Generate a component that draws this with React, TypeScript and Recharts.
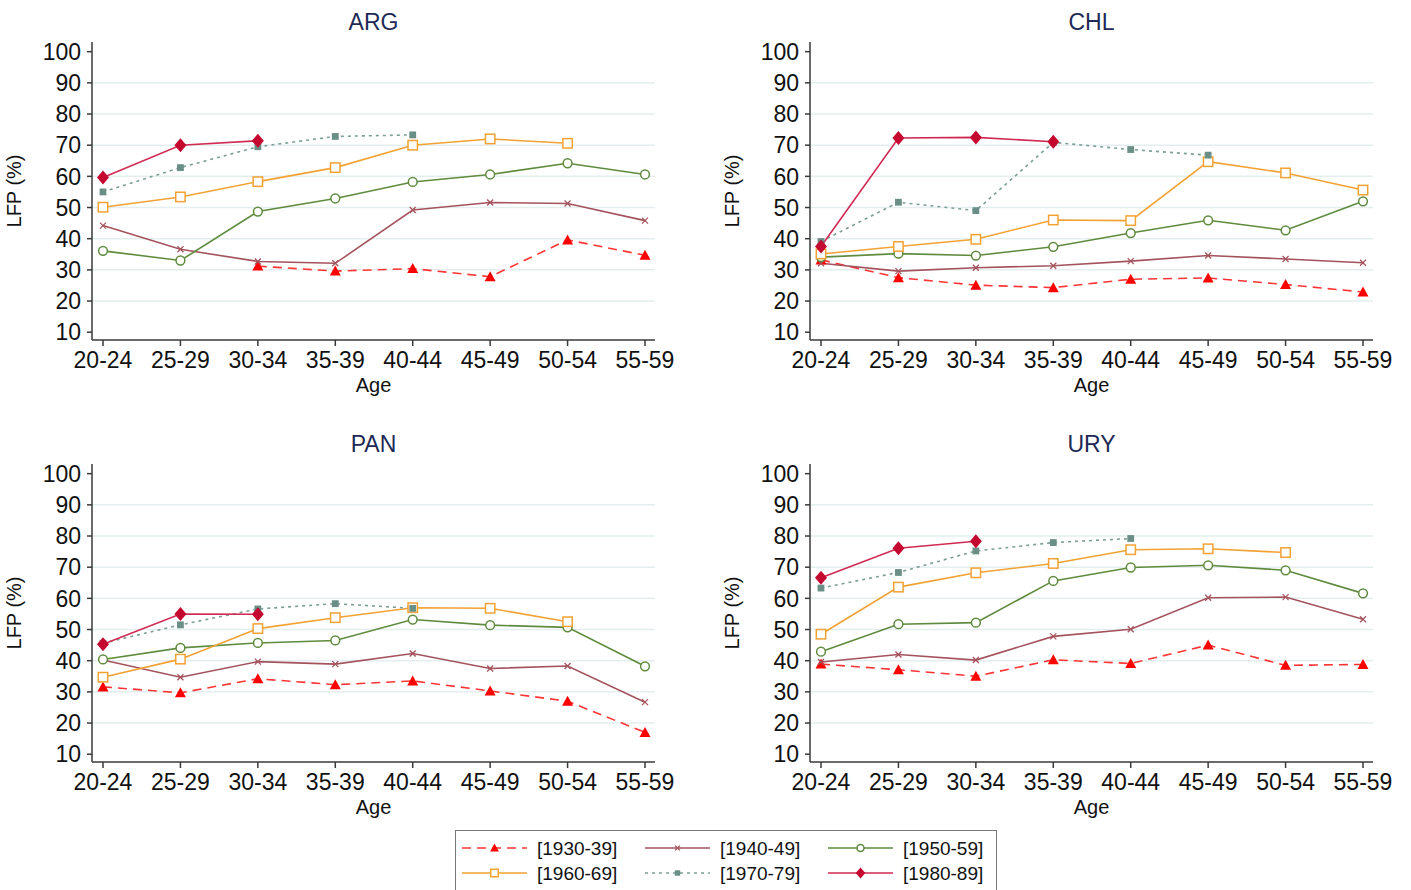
import { LineChart, Line, XAxis, YAxis, CartesianGrid } from 'recharts';

const AGES = ['20-24', '25-29', '30-34', '35-39', '40-44', '45-49', '50-54', '55-59'];
const Y_TICKS = [10, 20, 30, 40, 50, 60, 70, 80, 90, 100];
const GRID_VALUES = [20, 30, 40, 50, 60, 70, 80, 90];
const COHORTS = ['[1930-39]', '[1940-49]', '[1950-59]', '[1960-69]', '[1970-79]', '[1980-89]'];

// ARG
const ARG_1930 = [null, null, 31.2, 29.6, 30.4, 27.8, 39.6, 34.7];
const ARG_1940 = [44.2, 36.6, 32.7, 32.1, 49.2, 51.6, 51.3, 45.8];
const ARG_1950 = [36.1, 33.0, 48.7, 52.9, 58.2, 60.6, 64.2, 60.6];
const ARG_1960 = [50.1, 53.4, 58.3, 62.8, 70.0, 72.0, 70.6, null];
const ARG_1970 = [55.0, 62.8, 69.5, 72.8, 73.3, null, null, null];
const ARG_1980 = [59.6, 70.0, 71.4, null, null, null, null, null];

// CHL
const CHL_1930 = [33.2, 27.5, 25.1, 24.3, 27.0, 27.4, 25.3, 22.9];
const CHL_1940 = [32.1, 29.6, 30.7, 31.3, 32.8, 34.6, 33.5, 32.3];
const CHL_1950 = [34.1, 35.2, 34.6, 37.4, 41.8, 45.9, 42.7, 52.0];
const CHL_1960 = [35.1, 37.5, 39.8, 46.0, 45.8, 64.7, 61.1, 55.6];
const CHL_1970 = [39.1, 51.7, 49.0, 70.9, 68.6, 66.8, null, null];
const CHL_1980 = [37.5, 72.3, 72.5, 71.1, null, null, null, null];

// PAN
const PAN_1930 = [31.6, 29.7, 34.2, 32.3, 33.5, 30.3, 27.0, 17.0];
const PAN_1940 = [40.2, 34.7, 39.7, 38.9, 42.3, 37.5, 38.3, 26.7];
const PAN_1950 = [40.4, 44.1, 45.7, 46.5, 53.2, 51.4, 50.7, 38.2];
const PAN_1960 = [34.7, 40.5, 50.3, 53.8, 57.0, 56.8, 52.5, null];
const PAN_1970 = [45.6, 51.5, 56.6, 58.3, 56.8, null, null, null];
const PAN_1980 = [45.3, 55.0, 54.9, null, null, null, null, null];

// URY
const URY_1930 = [38.9, 37.1, 35.0, 40.3, 39.1, 45.0, 38.5, 38.8];
const URY_1940 = [39.6, 42.0, 40.2, 47.8, 50.1, 60.2, 60.4, 53.3];
const URY_1950 = [42.9, 51.7, 52.2, 65.6, 69.9, 70.6, 69.0, 61.6];
const URY_1960 = [48.5, 63.6, 68.2, 71.2, 75.6, 75.9, 74.7, null];
const URY_1970 = [63.3, 68.3, 75.2, 77.9, 79.2, null, null, null];
const URY_1980 = [66.6, 76.1, 78.3, null, null, null, null, null];

type Shape = 'triangle' | 'x' | 'circle' | 'square' | 'sqfill' | 'diamond';

const SERIES: { key: string; label: string; color: string; mark: string; dash?: string; shape: Shape }[] = [
  { key: 'c1930', label: COHORTS[0], color: '#ff3434', mark: '#ff0000', dash: '9 6', shape: 'triangle' },
  { key: 'c1940', label: COHORTS[1], color: '#a4535d', mark: '#a4535d', shape: 'x' },
  { key: 'c1950', label: COHORTS[2], color: '#5e8b3e', mark: '#5e8b3e', shape: 'circle' },
  { key: 'c1960', label: COHORTS[3], color: '#f2a233', mark: '#f2a233', shape: 'square' },
  { key: 'c1970', label: COHORTS[4], color: '#7d9e96', mark: '#6a8f86', dash: '3 4', shape: 'sqfill' },
  { key: 'c1980', label: COHORTS[5], color: '#d02a52', mark: '#c4082f', shape: 'diamond' },
];

function buildRows(cols: (number | null)[][]) {
  return AGES.map((age, i) => {
    const row: any = { age };
    SERIES.forEach((s, j) => (row[s.key] = cols[j][i]));
    return row;
  });
}

const PANELS = [
  { title: 'ARG', left: 0, top: 0, rows: buildRows([ARG_1930, ARG_1940, ARG_1950, ARG_1960, ARG_1970, ARG_1980]) },
  { title: 'CHL', left: 718, top: 0, rows: buildRows([CHL_1930, CHL_1940, CHL_1950, CHL_1960, CHL_1970, CHL_1980]) },
  { title: 'PAN', left: 0, top: 422, rows: buildRows([PAN_1930, PAN_1940, PAN_1950, PAN_1960, PAN_1970, PAN_1980]) },
  { title: 'URY', left: 718, top: 422, rows: buildRows([URY_1930, URY_1940, URY_1950, URY_1960, URY_1970, URY_1980]) },
];

function Marker({ shape, cx, cy, color, k = 1 }: { shape: Shape; cx: number; cy: number; color: string; k?: number }) {
  switch (shape) {
    case 'triangle':
      return <polygon points={`${cx},${cy - 5.5 * k} ${cx + 5.5 * k},${cy + 4.5 * k} ${cx - 5.5 * k},${cy + 4.5 * k}`} fill={color} />;
    case 'x':
      return (
        <g stroke={color} strokeWidth={1.3}>
          <line x1={cx - 3 * k} y1={cy - 3 * k} x2={cx + 3 * k} y2={cy + 3 * k} />
          <line x1={cx - 3 * k} y1={cy + 3 * k} x2={cx + 3 * k} y2={cy - 3 * k} />
        </g>
      );
    case 'circle':
      return <circle cx={cx} cy={cy} r={4.4 * k} fill="#fff" stroke={color} strokeWidth={1.5} />;
    case 'square':
      return <rect x={cx - 4.7 * k} y={cy - 4.7 * k} width={9.4 * k} height={9.4 * k} fill="#fff" stroke={color} strokeWidth={1.5} />;
    case 'sqfill':
      return <rect x={cx - 3.4 * k} y={cy - 3.4 * k} width={6.8 * k} height={6.8 * k} fill={color} />;
    case 'diamond':
      return <polygon points={`${cx},${cy - 7 * k} ${cx + 6 * k},${cy} ${cx},${cy + 7 * k} ${cx - 6 * k},${cy}`} fill={color} />;
  }
  return null;
}

const dotFor = (s: (typeof SERIES)[number]) => (p: any) => {
  if (p.value == null || p.cx == null || p.cy == null) return <g key={`${s.key}-${p.index}`} />;
  return (
    <g key={`${s.key}-${p.index}`}>
      <Marker shape={s.shape} cx={p.cx} cy={p.cy} color={s.mark} />
    </g>
  );
};

const tickStyle = { fontSize: 23, fill: '#111' };

function Panel({ title, left, top, rows }: { title: string; left: number; top: number; rows: any[] }) {
  return (
    <div style={{ position: 'absolute', left, top, width: 700, height: 400 }}>
      <div
        style={{
          position: 'absolute',
          left: 92,
          width: 563,
          top: 9,
          textAlign: 'center',
          fontSize: 23,
          lineHeight: '26px',
          color: '#1e2a55',
        }}
      >
        {title}
      </div>
      <LineChart width={700} height={400} data={rows} margin={{ top: 42, right: 45, left: 0, bottom: 0 }}>
        <CartesianGrid vertical={false} horizontalValues={GRID_VALUES} stroke="#e4eeee" strokeWidth={1.5} />
        <XAxis
          dataKey="age"
          padding={{ left: 11, right: 10 }}
          height={60}
          tickSize={6}
          tickMargin={6}
          interval={0}
          tick={tickStyle}
          stroke="#3a3a3a"
          strokeWidth={1.5}
          label={{ value: 'Age', position: 'insideBottom', offset: 8, fontSize: 20, fill: '#111' }}
        />
        <YAxis
          type="number"
          width={92}
          domain={[7.5, 103.1]}
          ticks={Y_TICKS}
          interval={0}
          tickSize={5}
          tickMargin={6}
          tick={tickStyle}
          stroke="#3a3a3a"
          strokeWidth={1.5}
          label={{
            value: 'LFP (%)',
            angle: -90,
            position: 'insideLeft',
            offset: 13.5,
            fontSize: 20,
            fill: '#111',
            style: { textAnchor: 'middle' },
          }}
        />
        {SERIES.map((s) => (
          <Line
            key={s.key}
            dataKey={s.key}
            type="linear"
            stroke={s.color}
            strokeWidth={1.6}
            strokeDasharray={s.dash}
            dot={dotFor(s)}
            activeDot={false}
            isAnimationActive={false}
          />
        ))}
      </LineChart>
    </div>
  );
}

function Legend() {
  return (
    <svg style={{ position: 'absolute', left: 455, top: 830 }} width={542} height={60}>
      <rect x={0.5} y={0.5} width={541} height={62} fill="#fff" stroke="#777" strokeWidth={1} />
      {SERIES.map((s, i) => {
        const col = i % 3;
        const row = Math.floor(i / 3);
        const x0 = 7 + col * 183;
        const y = 18 + row * 25;
        return (
          <g key={s.key}>
            <line x1={x0} y1={y} x2={x0 + 65} y2={y} stroke={s.color} strokeWidth={1.6} strokeDasharray={s.dash} />
            <Marker shape={s.shape} cx={x0 + 32.5} cy={y} color={s.mark} k={0.8} />
            <text x={x0 + 75} y={y + 7} fontSize={19} fill="#111">
              {s.label}
            </text>
          </g>
        );
      })}
    </svg>
  );
}

export default function App() {
  return (
    <div
      style={{
        position: 'absolute',
        left: 0,
        top: 0,
        width: 1411,
        height: 890,
        background: '#fff',
        fontFamily: '"Liberation Sans", Arial, sans-serif',
        overflow: 'hidden',
      }}
    >
      {PANELS.map((p) => (
        <Panel key={p.title} {...p} />
      ))}
      <Legend />
    </div>
  );
}
